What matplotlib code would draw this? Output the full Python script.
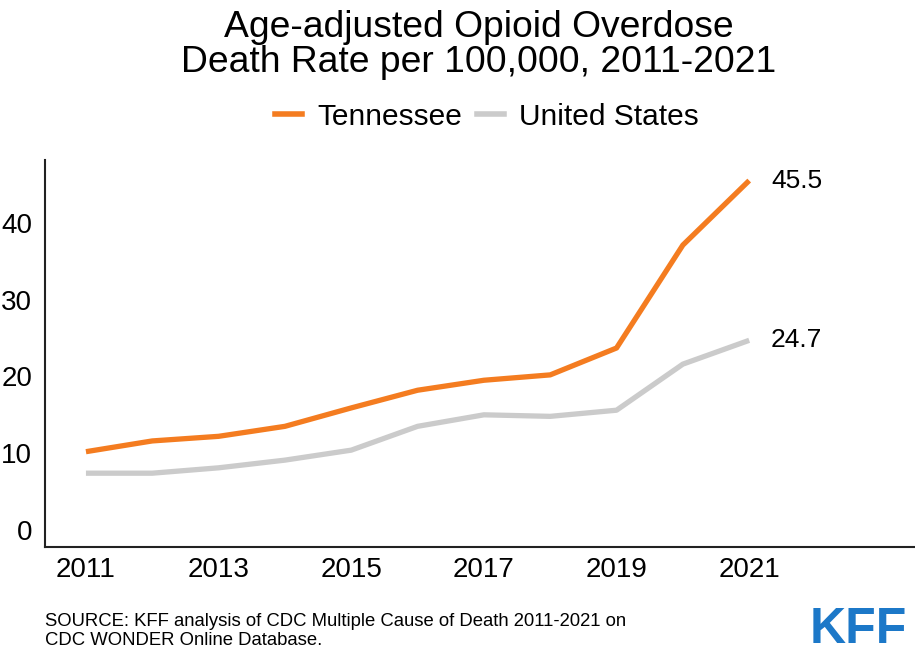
import matplotlib.pyplot as plt
from matplotlib.lines import Line2D

plt.rcParams['font.family'] = ['Liberation Sans', 'DejaVu Sans']

# Datos: tasa de muertes por sobredosis de opioides (por 100.000)
years = [2011, 2012, 2013, 2014, 2015, 2016, 2017, 2018, 2019, 2020, 2021]
tennessee = [10.2, 11.6, 12.2, 13.5, 15.9, 18.2, 19.5, 20.2, 23.7, 37.1, 45.5]
united_states = [7.4, 7.4, 8.1, 9.1, 10.4, 13.5, 15.0, 14.8, 15.6, 21.6, 24.7]
xticks = [2011, 2013, 2015, 2017, 2019, 2021]
yticks = [0, 10, 20, 30, 40]

c_tn = '#f47c20'
c_us = '#cbcbcb'

fig = plt.figure(figsize=(9.15, 6.55), dpi=100)
ax = fig.add_axes([0.049, 0.165, 0.951, 0.591])

ax.plot(years, united_states, color=c_us, lw=3.8, solid_capstyle='butt')
ax.plot(years, tennessee, color=c_tn, lw=3.8, solid_capstyle='butt')

# Etiquetas del último valor
ax.text(years[-1] + 0.33, tennessee[-1], f'{tennessee[-1]:.1f}', fontsize=19,
        va='center', ha='left')
ax.text(years[-1] + 0.33, united_states[-1], f'{united_states[-1]:.1f}', fontsize=19,
        va='center', ha='left')

ax.set_xlim(2010.38, 2023.5)
ax.set_ylim(-2.2, 48.2)
ax.set_xticks(xticks)
ax.set_yticks(yticks)
ax.tick_params(axis='both', length=0, labelsize=20)
ax.tick_params(axis='x', pad=7)
ax.tick_params(axis='y', pad=9)
for s in ['top', 'right']:
    ax.spines[s].set_visible(False)
for s in ['left', 'bottom']:
    ax.spines[s].set_linewidth(1.5)
    ax.spines[s].set_color('#222222')

# Título
fig.text(0.523, 0.985, 'Age-adjusted Opioid Overdose\nDeath Rate per 100,000, 2011-2021',
         ha='center', va='top', fontsize=26.8, linespacing=1.02)

# Leyenda
handles = [Line2D([], [], color=c_tn, lw=4), Line2D([], [], color=c_us, lw=4)]
fig.legend(handles, ['Tennessee', 'United States'], loc='center',
           bbox_to_anchor=(0.532, 0.822), ncol=2, frameon=False, fontsize=21.5,
           handlelength=0.9, handletextpad=0.5, columnspacing=0.5)

# Fuente y logo
fig.text(0.049, 0.036, 'SOURCE: KFF analysis of CDC Multiple Cause of Death 2011-2021 on\n'
         'CDC WONDER Online Database.', ha='left', va='center', fontsize=13.3,
         linespacing=1.15)
fig.text(0.991, 0.003, 'KFF', ha='right', va='bottom', fontsize=36,
         fontweight='bold', color='#1c78c8')

fig.savefig('out.png', dpi=100)
